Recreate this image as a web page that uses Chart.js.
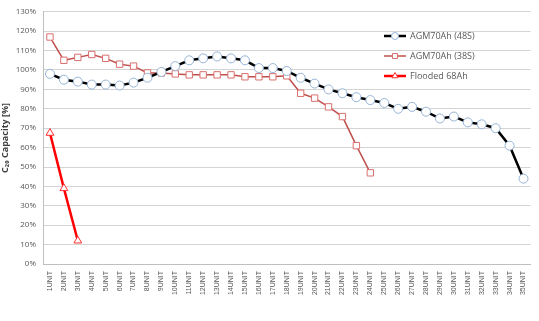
<!DOCTYPE html>
<html>
<head>
<meta charset="utf-8">
<script src="https://cdn.jsdelivr.net/npm/chart.js@4/dist/chart.umd.min.js"></script>
<style>
  html, body { margin: 0; padding: 0; background: #fff; }
  #wrap { width: 539px; height: 321px; position: relative; }
</style>
</head>
<body>
<div id="wrap"><canvas id="grafico"></canvas></div>
<script>
const unidades = [];
for (let i = 1; i <= 35; i++) unidades.push(i + "UNIT");

const agm48 = [98, 95, 94, 92.5, 92.5, 92, 93.5, 96, 99, 102, 105, 106, 107, 106, 105, 101, 101,
  99.5, 96, 93, 90, 88, 86, 84.5, 83, 80, 81, 78.5, 75, 76, 73, 72, 70, 61, 44];
const agm38 = [117, 105, 106.5, 108, 106, 103, 102, 98.5, 98.5, 98, 97.5, 97.5, 97.5, 97.5, 96.5, 96.5,
  96.5, 97, 88, 85.5, 81, 76, 61, 47];
const flooded = [67.5, 39, 12];

const nomes = ["AGM70Ah (48S)", "AGM70Ah (38S)", "Flooded 68Ah"];
const yTicks = [0, 10, 20, 30, 40, 50, 60, 70, 80, 90, 100, 110, 120, 130];

const estilos = [
  { linha: "#000000", borda: "#95b3d7", ponto: "circle", largura: 2.5, raio: 4.5 },
  { linha: "#c0504d", borda: "#d9706e", ponto: "rect", largura: 1.5, raio: 4.5 },
  { linha: "#ff0000", borda: "#ff3030", ponto: "triangle", largura: 2.5, raio: 4.5 }
];

// legenda desenhada à mão (linha + marcador, como no Excel)
const legendaExcel = {
  id: "legendaExcel",
  afterDraw(chart) {
    const ctx = chart.ctx;
    const x0 = 384, y0 = 36, passo = 20;
    chart.data.datasets.forEach((ds, i) => {
      const y = y0 + i * passo;
      ctx.save();
      ctx.strokeStyle = ds.borderColor;
      ctx.lineWidth = ds.borderWidth;
      ctx.beginPath();
      ctx.moveTo(x0, y);
      ctx.lineTo(x0 + 22, y);
      ctx.stroke();
      ctx.fillStyle = "#fff";
      ctx.strokeStyle = ds.pointBorderColor;
      ctx.lineWidth = 1;
      Chart.helpers.drawPoint(ctx, {
        pointStyle: ds.pointStyle,
        radius: 3.5,
        borderWidth: 1
      }, x0 + 11, y);
      ctx.fillStyle = "#595959";
      ctx.font = "9px 'Open Sans', 'Liberation Sans', sans-serif";
      ctx.textBaseline = "middle";
      ctx.fillText(ds.label, x0 + 26, y);
      ctx.restore();
    });
  }
};

const series = [agm48, agm38, flooded];

new Chart(document.getElementById("grafico"), {
  type: "line",
  data: {
    labels: unidades,
    datasets: series.map((dados, i) => ({
      label: nomes[i],
      data: dados,
      borderColor: estilos[i].linha,
      borderWidth: estilos[i].largura,
      pointStyle: estilos[i].ponto,
      pointRadius: estilos[i].raio,
      pointBackgroundColor: "#ffffff",
      pointBorderColor: estilos[i].borda,
      pointBorderWidth: 1,
      tension: 0,
      fill: false
    }))
  },
  plugins: [legendaExcel],
  options: {
    responsive: true,
    maintainAspectRatio: false,
    animation: false,
    layout: { padding: { top: 4, right: 2, left: 0, bottom: 0 } },
    plugins: {
      legend: { display: false },
      tooltip: { enabled: false }
    },
    scales: {
      x: {
        offset: true,
        grid: { display: false, drawTicks: false },
        border: { color: "#bfbfbf" },
        afterFit: s => { s.height = 57; },
        ticks: {
          autoSkip: false,
          minRotation: 90,
          maxRotation: 90,
          padding: 7,
          color: "#595959",
          font: { size: 7, family: "'Liberation Sans', sans-serif" }
        }
      },
      y: {
        min: 0,
        max: 130,
        afterBuildTicks: s => { s.ticks = yTicks.map(v => ({ value: v })); },
        afterFit: s => { s.width = 43; },
        grid: { color: "#d4d4d4", lineWidth: 1, drawTicks: false },
        border: { color: "#bfbfbf" },
        ticks: {
          padding: 7,
          color: "#595959",
          font: { size: 8, family: "'Open Sans', 'Liberation Sans', sans-serif" },
          callback: v => v + "%"
        },
        title: {
          display: true,
          text: "C₂₀ Capacity [%]",
          color: "#404040",
          padding: 0,
          font: { size: 9, weight: "bold", family: "'Open Sans', 'Liberation Sans', sans-serif" }
        }
      }
    }
  }
});
</script>
</body>
</html>
